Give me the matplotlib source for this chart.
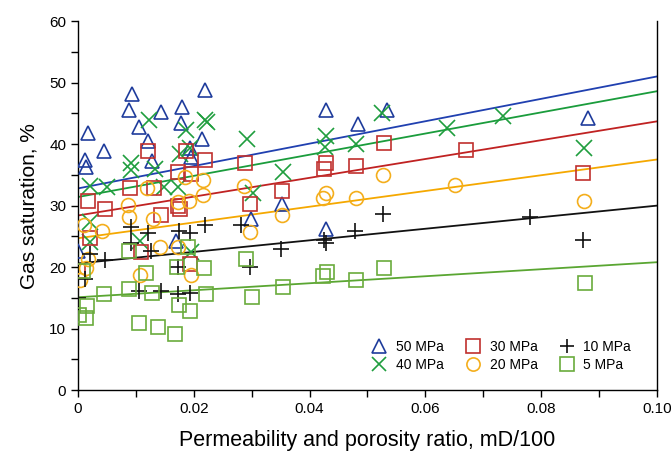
#!/usr/bin/env python3
"""Gas saturation vs permeability/porosity ratio at several pressures."""

import matplotlib

matplotlib.use("Agg")
import matplotlib.pyplot as plt
from matplotlib.ticker import MultipleLocator, FixedLocator

plt.rcParams["font.family"] = ["Liberation Sans", "DejaVu Sans"]

# --- data ------------------------------------------------------------------
x_50 = [0.0000, 0.0013, 0.0014, 0.0017, 0.0045, 0.0088, 0.0094, 0.0105, 0.0121,
        0.0128, 0.0144, 0.0170, 0.0178, 0.0180, 0.0193, 0.0196, 0.0214, 0.0219,
        0.0299, 0.0353, 0.0428, 0.0428, 0.0483, 0.0533, 0.0881]
y_50 = [22.7, 37.5, 36.2, 41.8, 38.9, 45.5, 48.2, 42.8, 40.5,
        37.2, 45.2, 24.3, 43.4, 46.0, 39.3, 37.9, 40.9, 48.8,
        27.9, 30.2, 26.2, 45.6, 43.3, 45.5, 44.3]

x_40 = [0.0020, 0.0020, 0.0021, 0.0050, 0.0092, 0.0092, 0.0108, 0.0122, 0.0133,
        0.0149, 0.0173, 0.0176, 0.0187, 0.0193, 0.0196, 0.0219, 0.0223, 0.0292,
        0.0303, 0.0354, 0.0429, 0.0427, 0.0480, 0.0526, 0.0638, 0.0735, 0.0874]
y_40 = [27.4, 24.1, 33.2, 33.1, 36.9, 35.8, 24.2, 44.0, 36.0,
        33.0, 33.1, 38.4, 42.3, 39.3, 22.5, 44.0, 43.6, 40.8,
        32.1, 35.5, 41.3, 39.6, 40.0, 45.0, 42.7, 44.6, 39.3]

x_30 = [0.0000, 0.0018, 0.0020, 0.0047, 0.0090, 0.0109, 0.0121, 0.0131, 0.0144,
        0.0173, 0.0173, 0.0177, 0.0187, 0.0195, 0.0193, 0.0219, 0.0288, 0.0298,
        0.0353, 0.0429, 0.0425, 0.0481, 0.0528, 0.0671, 0.0872]
y_30 = [19.3, 30.7, 24.7, 29.5, 32.9, 22.4, 38.9, 32.8, 28.4,
        35.5, 30.0, 29.5, 38.9, 35.2, 20.5, 37.5, 37.0, 30.2,
        32.4, 37.0, 36.0, 36.4, 40.2, 39.1, 35.3]

x_20 = [0.0003, 0.0014, 0.0018, 0.0010, 0.0041, 0.0087, 0.0089, 0.0108, 0.0119,
        0.0129, 0.0142, 0.0173, 0.0172, 0.0185, 0.0191, 0.0195, 0.0216, 0.0216,
        0.0287, 0.0297, 0.0352, 0.0423, 0.0429, 0.0480, 0.0527, 0.0651, 0.0874]
y_20 = [17.9, 19.8, 21.3, 26.8, 25.9, 30.1, 28.2, 18.7, 32.8,
        27.8, 23.2, 23.3, 30.6, 34.6, 30.8, 18.7, 34.2, 31.7,
        33.2, 25.7, 28.4, 31.3, 32.1, 31.3, 35.0, 33.4, 30.7]

x_10 = [0.0000, 0.0012, 0.0021, 0.0047, 0.0091, 0.0091, 0.0106, 0.0121, 0.0127,
        0.0144, 0.0172, 0.0174, 0.0173, 0.0194, 0.0194, 0.0219, 0.0282, 0.0297,
        0.0351, 0.0425, 0.0428, 0.0478, 0.0527, 0.0781, 0.0873]
y_10 = [15.0, 18.1, 22.2, 21.1, 26.5, 24.0, 16.2, 25.6, 22.6,
        16.2, 15.7, 25.9, 20.0, 25.5, 15.8, 26.9, 26.9, 20.0,
        23.0, 24.4, 23.9, 25.9, 28.6, 28.2, 24.4]

x_5 = [0.0001, 0.0009, 0.0014, 0.0016, 0.0045, 0.0089, 0.0088, 0.0105, 0.0118,
       0.0128, 0.0139, 0.0167, 0.0171, 0.0174, 0.0190, 0.0193, 0.0218, 0.0221,
       0.0291, 0.0300, 0.0354, 0.0424, 0.0431, 0.0480, 0.0528, 0.0876]
y_5 = [12.2, 19.3, 11.7, 13.7, 15.6, 22.6, 16.4, 10.9, 19.1,
       15.8, 10.3, 9.1, 20.1, 13.8, 23.2, 12.9, 19.8, 15.6,
       21.3, 15.2, 16.7, 18.5, 19.2, 17.9, 19.8, 17.5]

# trend lines: value at x = 0 and at x = 0.1
trend_x = [0.0, 0.1]
trend_50 = [32.8, 51.0]
trend_40 = [31.4, 48.6]
trend_30 = [28.4, 43.7]
trend_20 = [24.7, 37.5]
trend_10 = [20.6, 30.0]
trend_5 = [15.1, 20.8]

labels = ["50 MPa", "40 MPa", "30 MPa", "20 MPa", "10 MPa", "5 MPa"]
x_tick_labels = ["0", "0.02", "0.04", "0.06", "0.08", "0.10"]


def main() -> None:
    fig = plt.figure(figsize=(6.71, 4.59), dpi=100)
    ax = fig.add_axes([0.1162, 0.150, 0.8628, 0.804])

    series = [
        (x_50, y_50, trend_50, "^", "#1f3c9c", "#2040b0"),
        (x_40, y_40, trend_40, "x", "#1f9e3e", "#1a9c3c"),
        (x_30, y_30, trend_30, "s", "#c0302e", "#c02222"),
        (x_20, y_20, trend_20, "o", "#f4ae1c", "#f5a800"),
        (x_10, y_10, trend_10, "+", "#111111", "#111111"),
        (x_5, y_5, trend_5, "s", "#6aab3c", "#5aa632"),
    ]
    handles = []
    for (xs, ys, trend, marker, mcolor, lcolor), label in zip(series, labels):
        size = 11 if marker in ("+", "x") else 10
        (h,) = ax.plot(xs, ys, linestyle="none", marker=marker, markersize=size,
                       markerfacecolor="none", markeredgecolor=mcolor,
                       markeredgewidth=1.2, label=label, zorder=3)
        ax.plot(trend_x, trend, color=lcolor, linewidth=1.3, zorder=2)
        handles.append(h)

    ax.set_xlim(0, 0.1)
    ax.set_ylim(0, 60)
    ax.xaxis.set_major_locator(FixedLocator([0, 0.02, 0.04, 0.06, 0.08, 0.10]))
    ax.set_xticklabels(x_tick_labels)
    ax.xaxis.set_minor_locator(MultipleLocator(0.01))
    ax.yaxis.set_major_locator(MultipleLocator(10))
    ax.yaxis.set_minor_locator(MultipleLocator(5))
    ax.tick_params(which="both", direction="out", labelsize=11, length=5, width=1)
    ax.spines["top"].set_visible(False)
    for side in ("left", "bottom", "right"):
        ax.spines[side].set_linewidth(1.0)

    ax.set_xlabel("Permeability and porosity ratio, mD/100", fontsize=15.5, labelpad=10)
    ax.set_ylabel("Gas saturation, %", fontsize=15, labelpad=8)

    ax.legend(handles=handles, ncol=3, loc="lower right", frameon=False,
              fontsize=10, handletextpad=0.2, columnspacing=1.1,
              labelspacing=0.3, borderaxespad=0.0, markerscale=0.95,
              bbox_to_anchor=(0.965, 0.035))

    fig.savefig("out.png", dpi=100)
    plt.close(fig)


if __name__ == "__main__":
    main()
